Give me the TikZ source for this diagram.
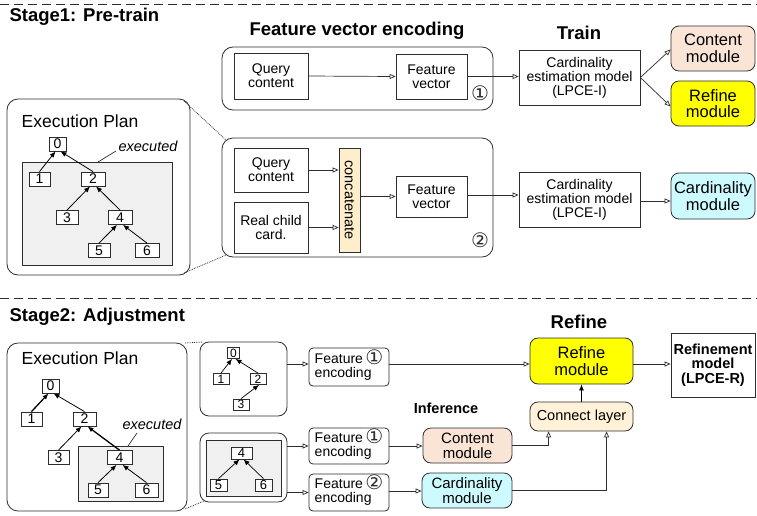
\documentclass[tikz,border=0pt]{standalone}
\usepackage{fontspec}
\setmainfont{Liberation Sans}
\newfontfamily\circfont{DejaVu Sans}
\usetikzlibrary{arrows.meta,calc}
\definecolor{peach}{RGB}{250,228,214}
\definecolor{yel}{RGB}{255,255,0}
\definecolor{cyanl}{RGB}{204,250,255}
\definecolor{concatc}{RGB}{255,238,204}
\definecolor{connc}{RGB}{255,242,217}
\definecolor{greyfill}{RGB}{240,240,240}
\definecolor{linec}{RGB}{45,45,45}
\newcommand{\fsz}[1]{\fontsize{#1}{#1}\selectfont}
\newcommand{\cnum}[1]{\smash{\raisebox{-1pt}{\circfont\fontsize{20}{20}\selectfont\color{linec}#1}}}
\tikzset{
  bx/.style={draw=linec, line width=0.8pt, fill=white, inner sep=0pt, align=center, font=\fsz{14}, text=black},
  rbx/.style={bx, rounded corners=8pt},
  bigr/.style={draw=linec, line width=0.8pt, rounded corners=11pt},
  tn/.style={draw=linec, line width=0.8pt, fill=white, inner sep=0pt, minimum height=14pt, minimum width=22pt, font=\fsz{14}},
  stn/.style={draw=linec, line width=0.8pt, fill=white, inner sep=0pt, minimum height=11pt, minimum width=16pt, font=\fsz{12}},
  oa/.style={draw=linec, line width=0.7pt, -{Triangle[open,length=6pt,width=5pt]}},
  fa/.style={draw=black, line width=0.8pt, -{Latex[length=6pt,width=5pt]}},
  ttl/.style={font=\fsz{18.5}\bfseries},
  dotl/.style={draw=linec, line width=0.8pt, densely dotted},
  sep/.style={draw=linec, line width=1pt, dash pattern=on 9pt off 5pt},
}
\begin{document}
\begin{tikzpicture}[x=1pt,y=-1pt]
\useasboundingbox (0,0) rectangle (757,515);
% separators
\draw[sep] (0,4) -- (757,4);
\draw[sep] (0,298) -- (757,298);
% ---------------- Stage 1 ----------------
\node[ttl, anchor=west] (s1) at (6,17) {Stage1: Pre-train};
\node[ttl] (fvt) at (357,31) {Feature vector encoding};
\node[ttl] (trt) at (579,33) {Train};

% execution plan stage1
\node[bigr, minimum width=183pt, minimum height=176pt] (ep1) at (98.5,187) {};
\node[font=\fsz{17.5}] (ep1t) at (80,121) {Execution Plan};
\node[draw=linec, line width=0.8pt, fill=greyfill, minimum width=150pt, minimum height=103pt, inner sep=0pt] (g1) at (97,213.5) {};
\node[tn, minimum width=17pt] (a0) at (57.5,144) {0};
\node[tn, minimum width=21pt] (a1) at (39.5,179) {1};
\node[tn, minimum width=24pt] (a2) at (93,179) {2};
\node[tn] (a3) at (67,217.5) {3};
\node[tn, minimum width=24pt] (a4) at (120,217.5) {4};
\node[tn] (a5) at (99,250.5) {5};
\node[tn, minimum width=24pt] (a6) at (147,250.5) {6};
\draw[fa] (a1.north) -- ([xshift=-2pt]a0.south);
\draw[fa] (a2.north) -- ([xshift=3pt]a0.south);
\draw[fa] (a3.north) -- ([xshift=-3pt]a2.south);
\draw[fa] (a4.north) -- ([xshift=3pt]a2.south);
\draw[fa] (a5.north) -- ([xshift=-3pt]a4.south);
\draw[fa] (a6.north) -- ([xshift=3pt]a4.south);
\node[font=\fsz{14.5}\itshape] (ex1) at (148,146.5) {executed};
\coordinate (ex1a) at (98,162);
\draw[draw=linec, line width=0.7pt] (ex1a) -- (116,151);

% box1
\node[bigr, minimum width=271pt, minimum height=63pt] (b1) at (357.5,78.5) {};
\node[bx, minimum width=74pt, minimum height=46pt] (qc1) at (271,76) {Query\\content};
\node[bx, minimum width=71pt, minimum height=45pt] (fv1) at (431.5,76.5) {Feature\\vector};
\node[inner sep=0pt] (c1) at (480,99) {\cnum{①}};
\node[bx, minimum width=121pt, minimum height=55pt] (cem1) at (579.5,77.5) {Cardinality\\estimation model\\(LPCE-I)};
\node[rbx, fill=peach, minimum width=84pt, minimum height=45pt, font=\fsz{16.5}] (cm1) at (713,48.5) {Content\\module};
\node[rbx, fill=yel, minimum width=84pt, minimum height=45pt, font=\fsz{16.5}] (rm1) at (713,103.5) {Refine\\module};
\draw[oa] (qc1.east) -- (fv1.west);
\draw[oa] (fv1.east) -- (fv1.east -| cem1.west);
\draw[oa] (cem1.east) -- ([yshift=-1pt]cm1.west);
\draw[oa] (cem1.east) -- ([yshift=-3pt]rm1.west);

% box2
\node[bigr, minimum width=271pt, minimum height=119pt] (b2) at (357.5,197.5) {};
\node[bx, minimum width=74pt, minimum height=44pt] (qc2) at (271,170) {Query\\content};
\node[bx, minimum width=74pt, minimum height=51pt] (rc) at (271,227.5) {Real child\\card.};
\node[bx, fill=concatc, minimum width=21pt, minimum height=104pt] (cat) at (349.5,200) {};
\node[rotate=-90, font=\fsz{14.5}] (catt) at (cat.center) {concatenate};
\node[bx, minimum width=71pt, minimum height=41pt] (fv2) at (431.5,196.5) {Feature\\vector};
\node[inner sep=0pt] (c2) at (480,246) {\cnum{②}};
\node[bx, minimum width=121pt, minimum height=55pt] (cem2) at (579.5,199.5) {Cardinality\\estimation model\\(LPCE-I)};
\node[rbx, fill=cyanl, minimum width=84pt, minimum height=46pt, font=\fsz{16.5}] (card1) at (713,196) {Cardinality\\module};
\draw[oa] (qc2.east) -- (qc2.east -| cat.west);
\draw[oa] (rc.east) -- (rc.east -| cat.west);
\draw[oa] (cat.east |- fv2.west) -- (fv2.west);
\draw[oa] ([yshift=1.5pt]fv2.east) -- ([yshift=1.5pt]fv2.east -| cem2.west);
\draw[oa] ([yshift=-1.5pt]cem2.east) -- ([yshift=-1.5pt]cem2.east -| card1.west);

% dotted zoom lines
\draw[dotl] (184,101) -- (226,140);
\draw[dotl] (184,273) -- (226,255);

% ---------------- Stage 2 ----------------
\node[ttl, anchor=west] (s2) at (6,317) {Stage2: Adjustment};
\node[ttl] (rft) at (579,322) {Refine};

\node[bigr, minimum width=180pt, minimum height=168pt] (ep2) at (97,427) {};
\node[font=\fsz{17.5}] (ep2t) at (80,358) {Execution Plan};
\node[draw=linec, line width=0.8pt, fill=greyfill, minimum width=85pt, minimum height=55pt, inner sep=0pt] (g2) at (120.5,473.5) {};
\node[tn, minimum width=17pt] (d0) at (50.5,386) {0};
\node[tn, minimum width=21pt] (d1) at (31.5,419) {1};
\node[tn, minimum width=23pt] (d2) at (84.5,419) {2};
\node[tn, minimum width=21pt] (d3) at (58.5,457.5) {3};
\node[tn, minimum width=25pt] (d4) at (119.5,457.5) {4};
\node[tn, minimum width=20pt] (d5) at (98,490) {5};
\node[tn, minimum width=23pt] (d6) at (146.5,490) {6};
\draw[fa, line width=1.3pt] (d1.north) -- ([xshift=-2pt]d0.south);
\draw[fa] (d2.north) -- ([xshift=3pt]d0.south);
\draw[fa] (d3.north) -- ([xshift=-3pt]d2.south);
\draw[fa, line width=1.3pt] (d4.north) -- ([xshift=3pt]d2.south);
\draw[fa] (d5.north) -- ([xshift=-3pt]d4.south);
\draw[fa] (d6.north) -- ([xshift=3pt]d4.south);
\node[font=\fsz{14.5}\itshape] (ex2) at (152,424) {executed};
\coordinate (ex2a) at (128,446);
\draw[draw=linec, line width=0.7pt] (ex2a) -- (137,433);

% sub plan 1
\node[bigr, rounded corners=9pt, minimum width=87pt, minimum height=74pt] (sp1) at (243.5,379) {};
\node[stn, minimum width=12pt] (e0) at (233.5,353) {0};
\node[stn] (e1) at (221,379) {1};
\node[stn] (e2) at (258,379) {2};
\node[stn] (e3) at (241,404.5) {3};
\draw[fa, line width=0.7pt] (e1.north) -- ([xshift=-1.5pt]e0.south);
\draw[fa, line width=0.7pt] (e2.north) -- ([xshift=2pt]e0.south);
\draw[fa, line width=0.7pt] (e3.north) -- ([xshift=1pt]e2.south);

% sub plan 2
\node[bigr, rounded corners=9pt, minimum width=87pt, minimum height=69pt] (sp2) at (243.5,467.5) {};
\node[draw=linec, line width=1.6pt, fill=greyfill, minimum width=75pt, minimum height=56pt, inner sep=0pt] (g3) at (244,468.5) {};
\node[stn, minimum width=21pt, minimum height=12pt, font=\fsz{13}] (f4) at (241.5,453) {4};
\node[stn, minimum width=17pt, minimum height=12pt, font=\fsz{13}] (f5) at (218.5,485) {5};
\node[stn, minimum width=17pt, minimum height=12pt, font=\fsz{13}] (f6) at (263.5,485) {6};
\draw[fa, line width=0.7pt] (f5.north) -- ([xshift=-2pt]f4.south);
\draw[fa, line width=0.7pt] (f6.north) -- ([xshift=2pt]f4.south);

% dotted zoom lines stage 2
\draw[dotl] (185,343) -- (203,342);
\draw[dotl] (185,509) -- (204,501);

% feature encoding boxes
\node[bx, rounded corners=4pt, minimum width=80pt, minimum height=38pt, align=left, font=\fsz{14}] (fe1) at (349,367) {Feature\,\cnum{①}\\encoding};
\node[bx, rounded corners=4pt, minimum width=80pt, minimum height=36pt, align=left, font=\fsz{14}] (fe2) at (349,446) {Feature\,\cnum{①}\\encoding};
\node[bx, rounded corners=4pt, minimum width=80pt, minimum height=37pt, align=left, font=\fsz{14}] (fe3) at (349,492.5) {Feature\,\cnum{②}\\encoding};
\draw[oa] (sp1.east |- 0,364) -- (fe1.west |- 0,364);
\draw[oa] (sp2.east |- fe2.west) -- (fe2.west);
\draw[oa] (sp2.east |- fe3.west) -- (fe3.west);

% refine side
\node[rbx, fill=yel, minimum width=103pt, minimum height=46pt, font=\fsz{16.5}] (rm2) at (581.5,361) {Refine\\module};
\node[bx, minimum width=84pt, minimum height=64pt, font=\fsz{14.5}\bfseries] (rfm) at (713,365) {Refinement\\model\\(LPCE-R)};
\node[rbx, fill=connc, minimum width=103pt, minimum height=29pt, font=\fsz{14.5}] (cl) at (581.5,416.5) {Connect layer};
\node[font=\fsz{14.5}\bfseries] (inf) at (446,408) {Inference};
\node[rbx, fill=peach, minimum width=89pt, minimum height=35pt, font=\fsz{15}] (cm2) at (467.5,445.5) {Content\\module};
\node[rbx, fill=cyanl, minimum width=90pt, minimum height=35pt, font=\fsz{15}] (card2) at (467,490.5) {Cardinality\\module};

\draw[oa] (fe1.east |- 0,364) -- (rm2.west |- 0,364);
\draw[oa] (rm2.east |- 0,364) -- (rfm.west |- 0,364);
\draw[oa] (fe2.east) -- (fe2.east -| cm2.west);
\draw[oa] (fe3.east |- 0,491) -- (card2.west |- 0,491);
\draw[oa] (cm2.east) -| ($(cl.south west)+(19,0)$);
\draw[oa] (card2.east) -| ($(cl.south west)+(77,0)$);
\draw[fa] (cl.north) -- (rm2.south);
\end{tikzpicture}
\end{document}
